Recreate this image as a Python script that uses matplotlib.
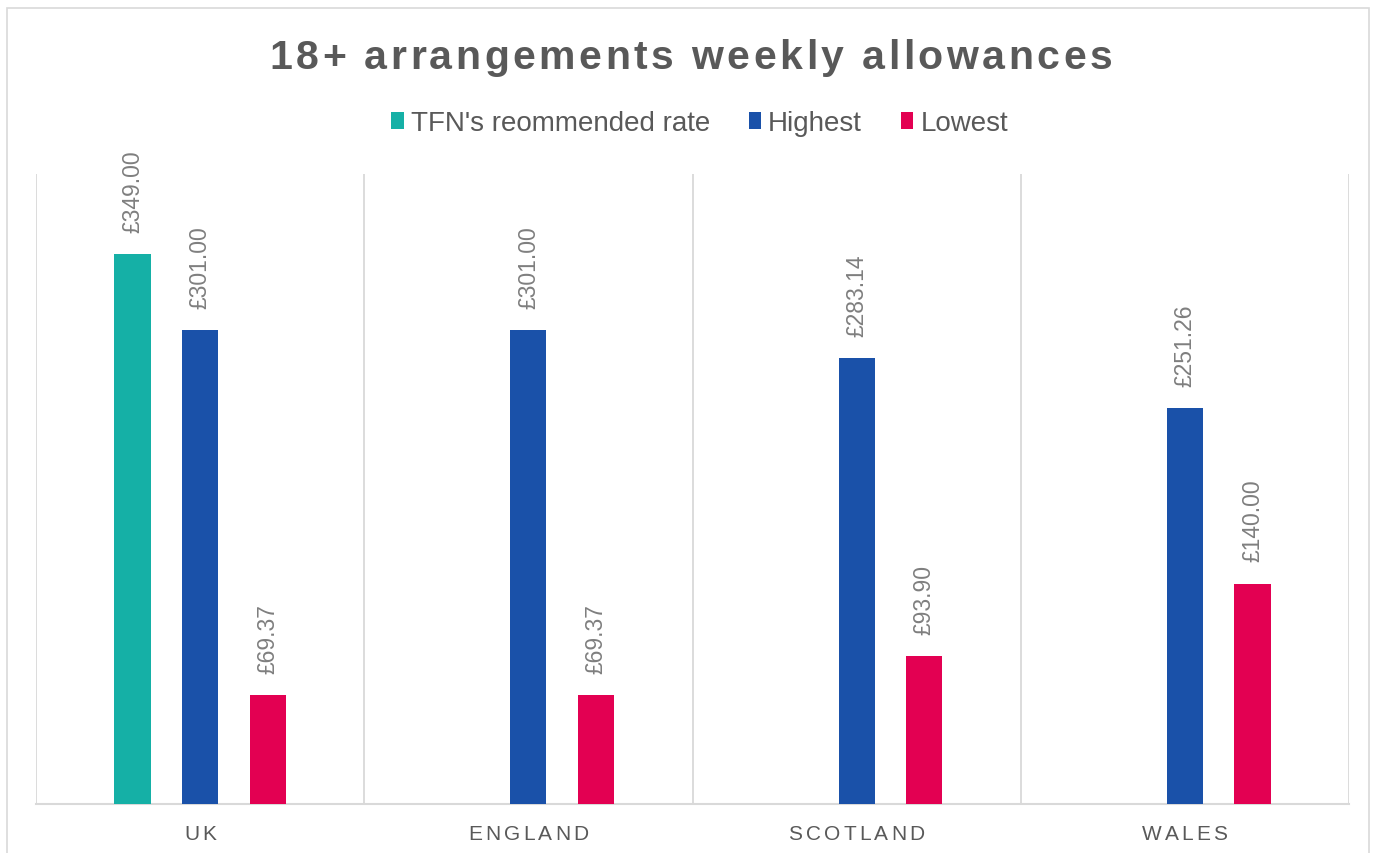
import matplotlib
matplotlib.use("Agg")
from matplotlib import pyplot as plt
from matplotlib.patches import Patch, Rectangle
from matplotlib.font_manager import FontProperties
import numpy as np

# weekly allowance figures (GBP)
categories = ["UK", "ENGLAND", "SCOTLAND", "WALES"]
recommended = [349.00, None, None, None]
highest = [301.00, 301.00, 283.14, 251.26]
lowest = [69.37, 69.37, 93.90, 140.00]
series_names = ["TFN's reommended rate", "Highest", "Lowest"]
colors = ["#15B0A6", "#1A51A9", "#E30052"]

W, H = 1381, 854
FONT = "Liberation Sans"
TEXT_GREY = "#595959"
LABEL_GREY = "#7F7F7F"
GRID = "#D9D9D9"


def advance(renderer, s, prop):
    # width of s including trailing spaces (measured against a bar glyph)
    w1, _, _ = renderer.get_text_width_height_descent(s + "|", prop, ismath=False)
    w0, _, _ = renderer.get_text_width_height_descent("|", prop, ismath=False)
    return w1 - w0


def spaced_text(fig, cx, y, s, spacing, prop, color):
    renderer = fig.canvas.get_renderer()
    total = advance(renderer, s, prop) + spacing * (len(s) - 1)
    start = cx - total / 2
    for i, ch in enumerate(s):
        if ch == " ":
            continue
        x = start + advance(renderer, s[:i], prop) + spacing * i
        fig.text(x / W, 1 - y / H, ch, ha="left", va="baseline",
                 fontproperties=prop, color=color)


fig = plt.figure(figsize=(W / 100, H / 100), dpi=100)
fig.patch.set_facecolor("white")

# chart frame
fig.patches.append(Rectangle((7 / W, -0.05), (1369 - 7) / W, (854 - 9) / H + 0.05,
                             transform=fig.transFigure, fill=False,
                             edgecolor=GRID, linewidth=1.2))

ax = fig.add_axes([36 / W, 1 - 805 / H, (1349 - 36) / W, (805 - 175) / H])
ax.set_xlim(-0.5, len(categories) - 0.5)
ax.set_ylim(0, 400)

x = np.arange(len(categories))
offset = 0.206
width = 0.11
label_prop = FontProperties(family=FONT, size=16.5)

for k, (vals, col) in enumerate(zip([recommended, highest, lowest], colors)):
    xs = [xi + (k - 1) * offset for xi, v in zip(x, vals) if v is not None]
    vs = [v for v in vals if v is not None]
    ax.bar(xs, vs, width=width, color=col, zorder=3)
    for xi, v in zip(xs, vs):
        ax.annotate(f"£{v:,.2f}", (xi, v), xytext=(0, 16), textcoords="offset points",
                    rotation=90, ha="center", va="bottom",
                    fontproperties=label_prop, color=LABEL_GREY)

# separators between categories
for b in np.arange(-0.5, len(categories), 1.0):
    ax.axvline(b, color=GRID, linewidth=1.3, zorder=1)

for side in ["top", "right", "left"]:
    ax.spines[side].set_visible(False)
ax.spines["bottom"].set_color(GRID)
ax.spines["bottom"].set_linewidth(1.5)
ax.set_xticks([])
ax.set_yticks([])

# title and axis labels drawn with letter spacing
title_prop = FontProperties(family=FONT, size=29.5, weight="bold")
spaced_text(fig, W / 2, 69, "18+ arrangements weekly allowances", 3.5, title_prop, TEXT_GREY)

cat_prop = FontProperties(family=FONT, size=15)
for xi, name in zip(x, categories):
    cx = 36 + (xi + 0.5) * (1349 - 36) / len(categories)
    spaced_text(fig, cx, 840, name, 3.2, cat_prop, TEXT_GREY)

handles = [Patch(facecolor=c, edgecolor="none") for c in colors]
leg = fig.legend(handles, series_names, loc="center",
                 bbox_to_anchor=(0.5 + 9 / W, 1 - 124 / H),
                 ncol=3, frameon=False, handlelength=0.45, handleheight=0.55,
                 handletextpad=0.25, columnspacing=1.4,
                 prop=FontProperties(family=FONT, size=20))
for t in leg.get_texts():
    t.set_color(TEXT_GREY)

fig.savefig("out.png", dpi=100)
